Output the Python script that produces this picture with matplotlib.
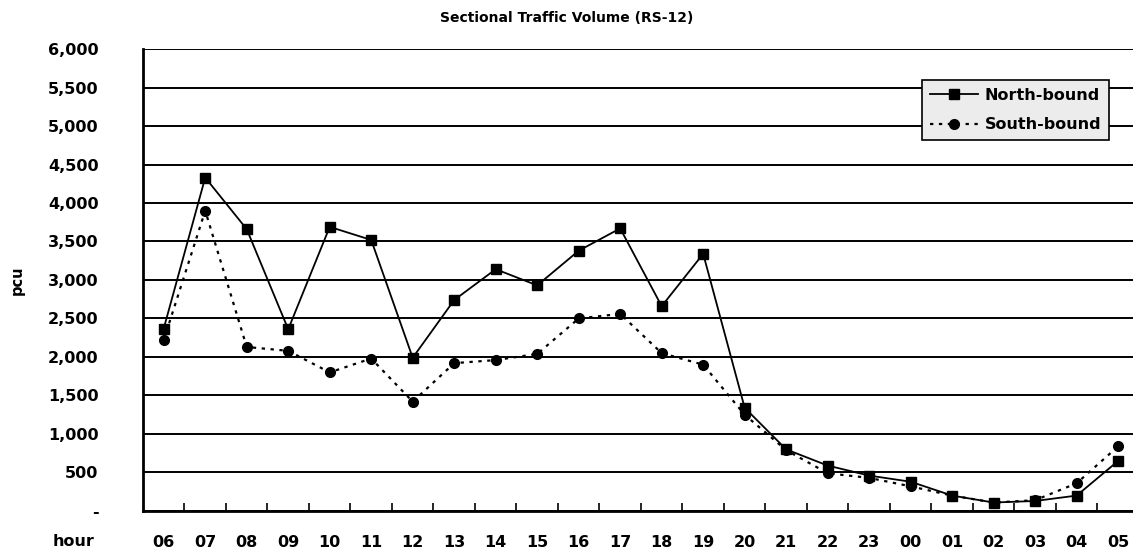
import numpy as np
import matplotlib.pyplot as plt
from matplotlib.ticker import FuncFormatter

hours = ['06', '07', '08', '09', '10', '11', '12', '13', '14', '15', '16', '17',
         '18', '19', '20', '21', '22', '23', '00', '01', '02', '03', '04', '05']
north = [2370, 4330, 3660, 2360, 3690, 3520, 1990, 2740, 3140, 2930, 3380, 3670,
         2660, 3340, 1340, 800, 590, 460, 380, 200, 110, 130, 200, 650]
south = [2220, 3900, 2130, 2080, 1800, 1980, 1420, 1920, 1960, 2040, 2500, 2560,
         2050, 1900, 1250, 790, 490, 430, 320, 200, 110, 140, 360, 840]

plt.rcParams['font.family'] = 'DejaVu Sans'
plt.rcParams['font.weight'] = 'bold'

fig = plt.figure(figsize=(11.33, 5.55), dpi=100)
ax = fig.add_axes([0.1262, 0.0793, 0.879, 0.8324])

x = np.arange(len(hours))
ax.plot(x, north, color='k', lw=1.3, marker='s', ms=7, label='North-bound')
ax.plot(x, south, color='k', lw=1.6, ls=(0, (1.5, 2.5)), marker='o', ms=7,
        label='South-bound')

ax.set_xlim(-0.5, len(hours) - 0.5)
ax.set_ylim(0, 6000)
ax.set_yticks(np.arange(0, 6001, 500))
ax.yaxis.set_major_formatter(FuncFormatter(lambda v, p: '-' if v == 0 else f'{int(v):,}'))
ax.yaxis.grid(True, color='k', lw=1.4)
ax.set_axisbelow(True)
ax.tick_params(axis='y', length=0, pad=32, labelsize=11.5)

ax.set_xticks(x)
ax.set_xticklabels(hours)
ax.set_xticks(x[:-1] + 0.5, minor=True)
ax.tick_params(axis='x', which='major', length=0, pad=17, labelsize=11.5)
ax.tick_params(axis='x', which='minor', direction='in', length=6, width=1.2)

for s in ['top', 'right']:
    ax.spines[s].set_visible(False)
ax.spines['left'].set_linewidth(2)
ax.spines['bottom'].set_linewidth(2)

ax.set_ylabel('pcu', fontsize=10.5, fontweight='bold')
ax.yaxis.set_label_coords(-0.119, 0.5)
fig.text(0.065, 0.025, 'hour', fontsize=11.5, fontweight='bold', ha='center', va='center')
fig.text(0.5, 0.968, 'Sectional Traffic Volume (RS-12)', fontsize=10,
         fontweight='bold', ha='center', va='center')

leg = ax.legend(loc='upper right', bbox_to_anchor=(0.97, 0.933), borderaxespad=0,
                fontsize=11.5, handlelength=3.0, handletextpad=0.4,
                frameon=True, fancybox=False, labelspacing=0.9, borderpad=0.5)
leg.get_frame().set_edgecolor('k')
leg.get_frame().set_linewidth(1.2)
leg.get_frame().set_facecolor('#ececec')
leg.get_frame().set_alpha(1)

fig.savefig('out.png', dpi=100)
